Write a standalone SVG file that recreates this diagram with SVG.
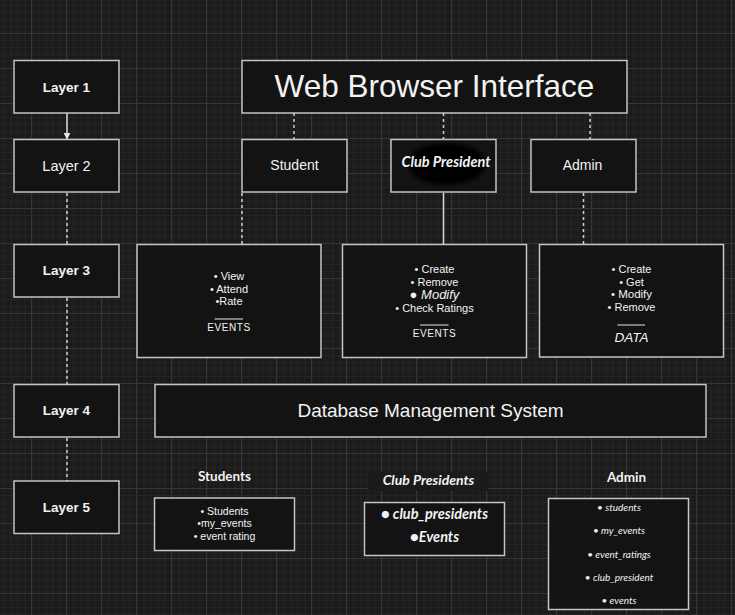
<svg xmlns="http://www.w3.org/2000/svg" width="735" height="615" viewBox="0 0 735 615">
<defs>
<pattern id="minor" x="3.5" y="5" width="7" height="7" patternUnits="userSpaceOnUse">
<path d="M0.5 0V7M0 0.5H7" stroke="#242424" stroke-width="1" fill="none"/>
</pattern>
<pattern id="major" x="31" y="33" width="35" height="35" patternUnits="userSpaceOnUse">
<path d="M0.5 0V35M0 0.5H35" stroke="#363636" stroke-width="1" fill="none"/>
</pattern>
<marker id="arrow" viewBox="0 0 10 10" refX="9" refY="5" markerWidth="7" markerHeight="7" markerUnits="userSpaceOnUse" orient="auto">
<path d="M0 0L10 5L0 10z" fill="#e6e6e6"/>
</marker>
<filter id="blur" x="-30%" y="-30%" width="160%" height="160%">
<feGaussianBlur stdDeviation="2"/>
</filter>
<style>
.box{fill:#131313;stroke:#c4c4c4;stroke-width:1.5}
.t{fill:#f2f2f2;font-family:"Liberation Sans",Arial,sans-serif;text-anchor:middle}
.lato{fill:#f2f2f2;font-family:Lato,"Liberation Sans",sans-serif;text-anchor:middle}
.b{font-weight:bold}
.i{font-style:italic}
.s11{font-size:11px}
.dash{stroke:#cfcfcf;stroke-width:1.5;stroke-dasharray:3 3;fill:none}
.solid{stroke:#d8d8d8;stroke-width:1.5;fill:none}
.ul{stroke:#e6e6e6;stroke-width:1}
</style>
</defs>
<rect width="735" height="615" fill="#1b1b1b"/>
<rect width="735" height="615" fill="url(#minor)"/>
<rect width="735" height="615" fill="url(#major)"/>

<g id="connectors">
<line class="solid" x1="67" y1="100" x2="67" y2="139" marker-end="url(#arrow)"/>
<line class="dash" x1="67" y1="193" x2="67" y2="244"/>
<line class="dash" x1="67" y1="298" x2="67" y2="384"/>
<line class="dash" x1="67" y1="438" x2="67" y2="481"/>
<line class="dash" x1="294" y1="113" x2="294" y2="139"/>
<line class="dash" x1="443.5" y1="113" x2="443.5" y2="139"/>
<line class="dash" x1="590" y1="113" x2="590" y2="139"/>
<line class="dash" x1="242" y1="193" x2="242" y2="244"/>
<line class="solid" x1="443.5" y1="193" x2="443.5" y2="244"/>
<line class="dash" x1="583.5" y1="193" x2="583.5" y2="244"/>
</g>

<g id="layer1"><rect class="box" x="14" y="60.5" width="105" height="52.5"/><text class="t b" x="66.5" y="92" font-size="13.5">Layer 1</text></g>
<g id="layer2"><rect class="box" x="14" y="139.5" width="105" height="52.5"/><text class="t" x="66.5" y="170.5" font-size="14.5">Layer 2</text></g>
<g id="layer3"><rect class="box" x="14" y="244.5" width="105" height="52.5"/><text class="t b" x="66.5" y="275" font-size="13.5">Layer 3</text></g>
<g id="layer4"><rect class="box" x="14" y="384.5" width="105" height="52.5"/><text class="t b" x="66.5" y="415" font-size="13.5">Layer 4</text></g>
<g id="layer5"><rect class="box" x="14" y="481" width="105" height="52.5"/><text class="t b" x="66.5" y="511.5" font-size="13.5">Layer 5</text></g>

<g id="web-browser"><rect class="box" x="242" y="60.5" width="385" height="52.5"/><text class="t" x="434.5" y="97" font-size="31.5">Web Browser Interface</text></g>
<g id="student"><rect class="box" x="242" y="139.5" width="105" height="52.5"/><text class="t" x="294.5" y="170" font-size="14">Student</text></g>
<g id="club-president"><rect class="box" x="391" y="139.5" width="105" height="52.5"/><ellipse cx="447" cy="164" rx="39" ry="21" fill="#000" filter="url(#blur)"/><text class="lato b i" x="446" y="167" font-size="14.5">Club President</text></g>
<g id="admin"><rect class="box" x="531" y="139.5" width="105" height="52.5"/><text class="t" x="582.5" y="170" font-size="14">Admin</text></g>

<g id="student-events"><rect class="box" x="137" y="244.5" width="184" height="113"/>
<text class="t s11" x="229" y="280">• View</text>
<text class="t s11" x="229" y="292.5">• Attend</text>
<text class="t s11" x="229" y="304.5">•Rate</text>
<line class="ul" x1="214.5" y1="319" x2="243" y2="319"/>
<text class="t" x="229" y="330.5" font-size="10" letter-spacing="0.6">EVENTS</text>
</g>
<g id="president-events"><rect class="box" x="342.5" y="244.5" width="184" height="113"/>
<text class="t s11" x="434.5" y="273">• Create</text>
<text class="t s11" x="434.5" y="285.5">• Remove</text>
<text class="t i" x="434.5" y="298.5" font-size="13"><tspan font-style="normal">●</tspan> Modify</text>
<text class="t s11" x="434.5" y="311.5">• Check Ratings</text>
<line class="ul" x1="420" y1="325" x2="448.5" y2="325"/>
<text class="t" x="434.5" y="336.5" font-size="10" letter-spacing="0.6">EVENTS</text>
</g>
<g id="admin-data"><rect class="box" x="539.5" y="244.5" width="184" height="112.5"/>
<text class="t s11" x="631.5" y="273">• Create</text>
<text class="t s11" x="631.5" y="285.5">• Get</text>
<text class="t" x="631.5" y="298" font-size="11.5">• Modify</text>
<text class="t s11" x="631.5" y="310.5">• Remove</text>
<line class="ul" x1="617.5" y1="325" x2="645" y2="325"/>
<text class="t i" x="631.5" y="341.5" font-size="13.5">DATA</text>
</g>

<g id="dbms"><rect class="box" x="155" y="384.5" width="551" height="52.5"/><text class="t" x="430.5" y="417" font-size="19">Database Management System</text></g>

<g id="students-db">
<text class="lato b" x="224.5" y="481" font-size="13.5">Students</text>
<rect class="box" x="154.5" y="498" width="140" height="52.5"/>
<text class="t" x="224.5" y="514.5" font-size="10.5">• Students</text>
<text class="t" x="224.5" y="527" font-size="10.5">•my_events</text>
<text class="t" x="224.5" y="540" font-size="10.5">• event rating</text>
</g>
<g id="presidents-db">
<rect x="368" y="472" width="120" height="19" fill="#1b1b1b"/>
<text class="lato i b" x="428.5" y="484.5" font-size="14">Club Presidents</text>
<rect class="box" x="364.5" y="502.5" width="140" height="53"/>
<text class="lato i b" x="434.5" y="519" font-size="14.5">● club_presidents</text>
<text class="lato i b" x="434.5" y="542" font-size="14.5">●Events</text>
</g>
<g id="admin-db">
<text class="lato b" x="626.5" y="482" font-size="13.5">Admin</text>
<rect class="box" x="548.5" y="498.5" width="140" height="111"/>
<text class="lato i" x="619" y="510.5" font-size="10">• students</text>
<text class="lato i" x="619" y="533.5" font-size="10">• my_events</text>
<text class="lato i" x="619" y="557.5" font-size="10">• event_ratings</text>
<text class="lato i" x="619" y="580.5" font-size="10">• club_president</text>
<text class="lato i" x="619" y="603.5" font-size="10">• events</text>
</g>
</svg>
